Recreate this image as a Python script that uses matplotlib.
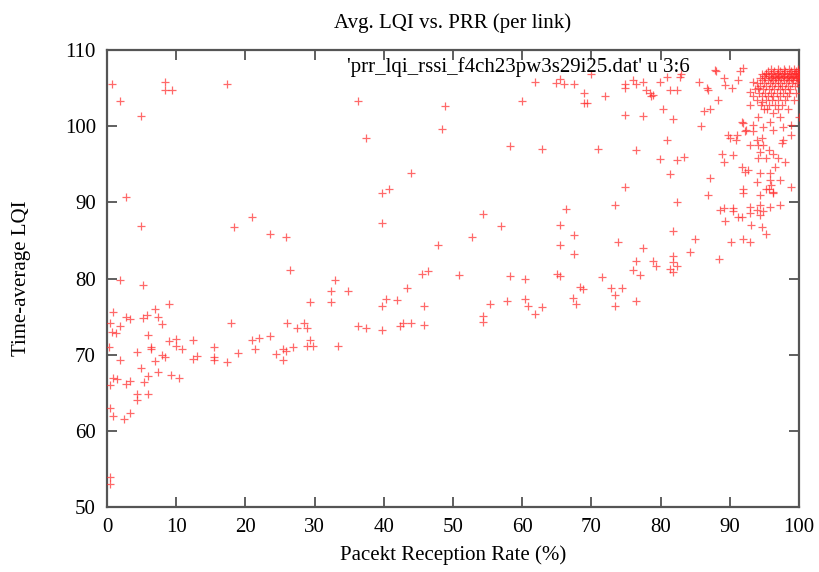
import matplotlib
matplotlib.use("Agg")
import matplotlib.pyplot as plt

# (PRR %, avg LQI) per link, grouped by region
low_prr = [
    (0.8, 105.6), (1.9, 103.3), (4.9, 101.3), (8.4, 105.8), (8.4, 104.8), (9.4, 104.7), (17.3, 105.6),
    (2.8, 90.7), (4.9, 86.9), (18.4, 86.7), (20.9, 88.1), (23.5, 85.9),
    (1.9, 79.8), (5.2, 79.2), (8.9, 76.6), (6.9, 76.0), (0.9, 75.6), (0.4, 74.1), (1.9, 73.8),
    (2.8, 74.9), (3.4, 74.7), (5.2, 74.8), (5.8, 75.2), (7.4, 75.0), (7.9, 74.0), (0.8, 73.0),
    (1.3, 72.8), (6.0, 72.6), (17.9, 74.1), (0.3, 71.0), (6.3, 71.0), (6.3, 70.7), (8.9, 71.8),
    (10.0, 72.1), (10.0, 71.1), (10.9, 70.7), (12.4, 71.9), (4.4, 70.3), (7.9, 70.0), (8.4, 69.7),
    (1.9, 69.3), (6.9, 69.2), (12.4, 69.4), (13.0, 69.8), (15.5, 71.0), (15.5, 69.7), (15.5, 69.3),
    (17.4, 69.0), (18.9, 70.2), (20.9, 71.9), (21.9, 72.2), (23.5, 72.5), (21.4, 70.8), (24.4, 70.1),
    (4.9, 68.3), (6.0, 67.2), (7.4, 67.7), (9.3, 67.3), (10.4, 67.0), (0.9, 67.0), (1.4, 66.8),
    (0.4, 66.0), (2.8, 66.2), (3.4, 66.5), (5.3, 66.4), (4.4, 64.9), (4.4, 64.1), (6.0, 64.8),
    (0.4, 63.0), (0.9, 62.0), (2.4, 61.6), (3.4, 62.3), (0.4, 54.0), (0.4, 53.0),
]

mid_prr = [
    (36.3, 103.3), (37.4, 98.4), (48.8, 102.7), (48.4, 99.6), (43.9, 93.9), (39.8, 91.2), (40.8, 91.8),
    (39.8, 87.3), (25.9, 85.5), (47.9, 84.4), (26.5, 81.1), (45.5, 80.6), (46.4, 81.0), (32.9, 79.8),
    (32.4, 78.4), (34.9, 78.4), (29.4, 76.9), (32.4, 76.9), (43.4, 78.8), (40.3, 77.3), (41.9, 77.2),
    (39.8, 76.4), (45.8, 76.4), (26.0, 74.1), (28.4, 74.1), (27.4, 73.5), (28.9, 73.5), (36.3, 73.7),
    (37.4, 73.5), (39.8, 73.2), (42.3, 73.7), (42.8, 74.2), (43.9, 74.1), (45.8, 73.9), (29.4, 71.9),
    (28.9, 71.1), (29.8, 71.1), (26.9, 71.0), (25.5, 70.8), (25.9, 70.5), (25.4, 69.3), (33.4, 71.1),
    (61.9, 105.8), (64.9, 105.7), (65.4, 106.2), (66.0, 105.5), (67.5, 105.6), (69.9, 106.8),
    (68.9, 104.4), (68.9, 103.0), (69.4, 103.1), (71.9, 104.0), (59.9, 103.3), (58.3, 97.4),
    (62.9, 97.0), (70.9, 97.0), (73.4, 89.6), (54.4, 88.5), (56.9, 86.9), (52.8, 85.5), (66.3, 89.1),
    (65.5, 87.0), (67.5, 85.7), (65.5, 84.4), (67.5, 83.2), (73.9, 84.8), (50.9, 80.5), (58.3, 80.3),
    (60.4, 79.9), (65.0, 80.6), (65.4, 80.3), (71.5, 80.2), (55.3, 76.7), (54.3, 75.1), (54.3, 74.3),
    (57.8, 77.0), (60.4, 77.3), (60.9, 76.4), (61.9, 75.4), (62.9, 76.2), (67.4, 77.5), (67.8, 76.7),
    (68.4, 78.9), (68.8, 78.6), (72.9, 78.8), (73.4, 77.8), (73.4, 76.4), (74.4, 78.7), (76.4, 77.1),
]

high_prr = [
    (74.9, 105.6), (74.9, 105.0), (76.0, 106.1), (76.4, 105.6), (77.4, 105.8), (77.9, 104.8),
    (78.5, 104.3), (78.9, 104.1), (78.6, 103.9), (79.9, 105.8), (80.9, 106.4), (81.3, 104.7),
    (82.3, 104.7), (82.8, 106.5), (83.0, 106.8), (85.5, 105.8), (86.9, 104.7), (88.0, 107.3),
    (89.3, 105.4), (88.3, 103.4), (87.1, 102.3), (86.3, 102.0), (85.8, 100.0), (80.4, 102.3),
    (81.8, 100.9), (74.9, 101.5), (77.4, 101.4), (80.9, 98.2), (76.4, 96.9), (79.9, 95.7),
    (82.3, 95.5), (83.4, 95.9), (81.4, 93.7), (74.9, 92.0), (82.3, 90.1), (87.1, 93.2), (86.8, 91.0),
    (77.4, 84.0), (81.8, 86.2), (84.9, 85.2), (84.2, 83.5), (88.4, 82.6), (76.4, 82.3), (78.9, 82.3),
    (76.0, 81.1), (77.0, 80.5), (79.4, 81.6), (81.8, 82.9), (81.8, 82.2), (81.4, 81.2), (81.8, 80.9),
    (82.3, 81.6),
    (87.9, 107.4), (86.7, 105.0), (89.1, 106.3), (90.3, 105.0), (91.5, 107.2), (91.9, 107.6),
    (91.2, 106.1), (92.9, 102.8), (92.9, 104.5), (94.1, 105.0), (93.4, 105.8), (94.6, 103.2),
    (95.4, 102.3), (96.3, 101.7), (97.3, 101.2), (95.8, 100.6), (94.1, 101.2), (93.4, 100.2),
    (91.9, 100.4), (92.4, 99.5), (94.8, 99.9), (97.7, 99.9), (98.9, 100.2), (100.0, 101.2),
    (89.8, 98.8), (90.9, 98.2), (92.2, 99.3), (93.4, 99.3), (94.6, 98.4), (94.8, 97.5), (94.1, 97.5),
    (92.9, 97.5), (97.5, 97.8), (98.9, 98.8), (88.8, 96.4), (89.1, 95.3), (90.4, 96.2), (94.4, 96.6),
    (95.6, 96.9), (96.3, 96.4), (95.3, 95.8), (94.1, 95.8), (97.0, 95.8), (98.0, 95.3), (91.7, 94.7),
    (92.7, 94.2), (92.2, 94.0), (94.4, 93.8), (95.8, 93.8), (96.5, 94.7), (93.9, 92.7), (95.8, 92.9),
    (96.0, 92.3), (97.3, 92.9), (95.3, 91.8), (91.9, 91.8), (91.9, 91.2), (94.4, 91.0), (96.3, 91.4),
    (98.9, 92.0), (89.1, 89.2), (90.5, 89.2), (92.9, 89.4), (94.4, 89.7), (95.8, 89.4), (97.3, 89.7),
    (91.7, 100.6), (91.0, 98.8), (90.0, 98.4), (96.3, 99.5), (97.7, 98.2), (93.9, 98.2),
    (88.6, 89.0), (89.3, 87.5), (90.4, 88.8), (91.2, 88.1), (91.7, 88.1), (92.9, 88.6), (93.9, 89.0),
    (94.4, 88.3), (94.8, 88.8), (93.1, 87.0), (94.6, 86.8), (95.3, 85.9), (90.2, 84.8), (91.9, 85.2),
    (92.9, 84.8), (95.6, 91.8), (96.3, 91.2),
]

# the solid block of links near 100% PRR
dense_block = [
    (96.0, 107.5), (97.0, 107.5), (97.8, 107.5), (98.6, 107.5), (99.3, 107.5), (99.9, 107.5),
    (95.5, 107.2), (96.4, 107.2), (97.2, 107.2), (98.0, 107.2), (98.8, 107.2), (99.5, 107.2), (99.9, 107.2),
    (94.6, 106.9), (95.2, 106.9), (96.0, 106.9), (96.8, 106.9), (97.5, 106.9), (98.3, 106.9), (99.0, 106.9),
    (99.6, 106.9), (100.0, 106.9),
    (95.3, 107.0), (96.2, 107.0), (97.0, 107.0), (97.9, 107.0), (98.7, 107.0), (99.4, 107.0), (99.8, 107.0),
    (94.9, 106.6), (95.7, 106.6), (96.5, 106.6), (97.1, 106.6), (97.9, 106.6), (98.6, 106.6), (99.3, 106.6),
    (99.8, 106.6),
    (96.1, 106.5), (96.9, 106.5), (97.7, 106.5), (98.4, 106.5), (99.1, 106.5), (99.7, 106.5),
    (94.3, 106.3), (95.1, 106.3), (95.9, 106.3), (96.7, 106.3), (97.4, 106.3), (98.2, 106.3), (98.9, 106.3),
    (99.5, 106.3), (100.0, 106.3),
    (94.7, 106.0), (95.5, 106.0), (96.2, 106.0), (97.0, 106.0), (97.8, 106.0), (98.5, 106.0), (99.2, 106.0),
    (99.8, 106.0),
    (93.9, 105.7), (95.0, 105.7), (95.8, 105.7), (96.6, 105.7), (97.3, 105.7), (98.1, 105.7), (99.0, 105.7),
    (99.7, 105.7),
    (94.4, 105.3), (95.3, 105.3), (96.1, 105.3), (96.9, 105.3), (97.6, 105.3), (98.4, 105.3), (99.4, 105.3),
    (93.6, 104.9), (94.8, 104.9), (95.6, 104.9), (96.4, 104.9), (97.2, 104.9), (98.0, 104.9), (98.7, 104.9),
    (94.2, 104.4), (95.1, 104.4), (96.0, 104.4), (96.8, 104.4), (97.7, 104.4), (98.6, 104.4), (99.6, 104.4),
    (93.3, 103.9), (94.7, 103.9), (95.5, 103.9), (96.3, 103.9), (97.3, 103.9), (98.2, 103.9),
    (94.0, 103.4), (95.2, 103.4), (96.1, 103.4), (97.0, 103.4), (98.0, 103.4), (99.3, 103.4),
    (94.5, 102.8), (95.7, 102.8), (96.6, 102.8), (97.6, 102.8),
    (95.0, 102.2), (96.9, 102.2), (98.4, 102.2),
]

x_ticks = list(range(0, 101, 10))
y_ticks = list(range(50, 111, 10))

plt.rcParams['font.family'] = ['Liberation Serif', 'DejaVu Serif']

fig = plt.figure(figsize=(8.19, 5.72), dpi=100)
ax = fig.add_axes([0.1306, 0.1136, 0.8450, 0.7990])

points = low_prr + mid_prr + high_prr + dense_block
prr, lqi = zip(*points)
ax.scatter(prr, lqi, marker='+', s=32, color='#ff2a2a', linewidths=0.9, alpha=0.7, zorder=3)

ax.set_xlim(0, 100)
ax.set_ylim(50, 110)
ax.set_xticks(x_ticks)
ax.set_yticks(y_ticks)
ax.tick_params(direction='in', length=7, width=1.2, color='#444444', labelsize=15,
               top=True, right=True, pad=8)
for sp in ax.spines.values():
    sp.set_linewidth(1.6)
    sp.set_color('#555555')

ax.set_title('Avg. LQI vs. PRR (per link)', fontsize=15, pad=16)
ax.set_xlabel('Pacekt Reception Rate (%)', fontsize=15, labelpad=6)
ax.set_ylabel('Time-average LQI', fontsize=15, labelpad=24)

# gnuplot style key text
ax.text(0.842, 0.962, "'prr_lqi_rssi_f4ch23pw3s29i25.dat' u 3:6", transform=ax.transAxes,
        ha='right', va='center', fontsize=15)

fig.savefig('out.png', dpi=100)
